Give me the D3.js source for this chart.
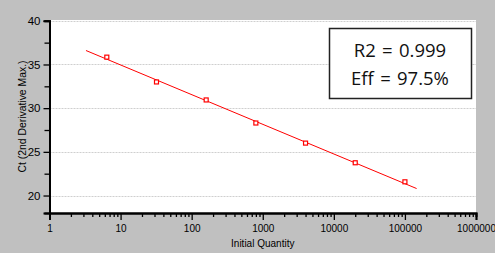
<!DOCTYPE html>
<html>
<head>
<meta charset="utf-8">
<script src="https://cdn.jsdelivr.net/npm/d3@7"></script>
<style>
  body { margin: 0; background: #c0c0c0; }
  svg { display: block; }
</style>
</head>
<body>
<div id="chart"></div>
<script>
// standard curve data (5-fold dilution series)
var quantities = [6.4, 32, 160, 800, 4000, 20000, 100000];
var ctValues = [35.84, 33.0, 30.94, 28.3, 26.0, 23.75, 21.57];

// fitted line end points
var fitX = [3.26, 146000];
var fitY = [36.6, 20.8];

var yTicks = [20, 25, 30, 35, 40];
var xTicks = [1, 10, 100, 1000, 10000, 100000, 1000000];
var statLines = ["R2 = 0.999", "Eff = 97.5%"];

var W = 495, H = 253;
var margin = {top: 20, right: 19, bottom: 40, left: 49.5},
    width = W - margin.left - margin.right,
    height = H - margin.top - margin.bottom;

var svg = d3.select("#chart")
  .append("svg")
    .attr("width", W)
    .attr("height", H);

svg.append("rect")
    .attr("width", W)
    .attr("height", H)
    .attr("fill", "#c0c0c0");

var g = svg.append("g")
    .attr("transform", "translate(" + margin.left + "," + margin.top + ")");

// plot background
g.append("rect")
    .attr("width", width)
    .attr("height", height)
    .attr("fill", "#fff");

var x = d3.scaleLog()
    .domain([1, 1000000])
    .range([0, width]);

var y = d3.scaleLinear()
    .domain([18, 40])
    .range([height, 0.8]);

// dotted gridlines
g.selectAll(".grid")
  .data(yTicks)
  .enter()
  .append("line")
    .attr("x1", 0)
    .attr("x2", width)
    .attr("y1", function(d) { return Math.round(y(d)) + 0.5; })
    .attr("y2", function(d) { return Math.round(y(d)) + 0.5; })
    .attr("stroke", "#cfcfcf")
    .attr("stroke-dasharray", "2,1");

// minor ticks
var xMinor = [];
for (var e = 0; e < 6; e++) {
  for (var m = 2; m < 10; m++) xMinor.push(m * Math.pow(10, e));
}
var yMinor = [22.5, 27.5, 32.5, 37.5];

var xAxis = g.append("g")
    .attr("transform", "translate(0," + height + ")");
xAxis.call(d3.axisBottom(x).tickValues(xMinor).tickSize(4).tickFormat(""));
xAxis.append("g")
    .call(d3.axisBottom(x).tickValues(xTicks).tickSize(7).tickPadding(5)
      .tickFormat(d3.format("d")));

var yAxis = g.append("g");
yAxis.call(d3.axisLeft(y).tickValues(yMinor).tickSize(5).tickFormat(""));
yAxis.append("g")
    .call(d3.axisLeft(y).tickValues(yTicks).tickSize(6).tickPadding(3));

g.selectAll(".domain")
    .attr("stroke", "#000")
    .attr("stroke-width", 2);
g.selectAll(".tick line")
    .attr("stroke", "#000")
    .attr("stroke-width", 1.3);
g.selectAll(".tick text")
    .style("font-family", "Liberation Sans, Arial, sans-serif")
    .style("font-size", "10px")
    .attr("fill", "#000");
yAxis.selectAll(".tick text").style("font-size", "11.5px");

// axis titles
svg.append("text")
    .attr("x", margin.left + x(1000))
    .attr("y", 247)
    .attr("text-anchor", "middle")
    .style("font-family", "Liberation Sans, Arial, sans-serif")
    .style("font-size", "10px")
    .text("Initial Quantity");

svg.append("text")
    .attr("transform", "translate(26," + 116.5 + ") rotate(-90)")
    .attr("text-anchor", "middle")
    .style("font-family", "Liberation Sans, Arial, sans-serif")
    .style("font-size", "10.4px")
    .text("Ct (2nd Derivative Max.)");

// fit line
var line = d3.line()
    .x(function(d) { return x(d[0]); })
    .y(function(d) { return y(d[1]); });

g.append("path")
    .datum(d3.zip(fitX, fitY))
    .attr("d", line)
    .attr("fill", "none")
    .attr("stroke", "#ff0000")
    .attr("stroke-width", 1);

// points
g.selectAll(".pt")
  .data(d3.zip(quantities, ctValues))
  .enter()
  .append("rect")
    .attr("x", function(d) { return x(d[0]) - 2; })
    .attr("y", function(d) { return y(d[1]) - 2; })
    .attr("width", 4)
    .attr("height", 4)
    .attr("fill", "#fff")
    .attr("stroke", "#ff0000")
    .attr("stroke-width", 1.2);

// stats box
var box = svg.append("g");
box.append("rect")
    .attr("x", 329.5)
    .attr("y", 28.5)
    .attr("width", 142)
    .attr("height", 70)
    .attr("fill", "#fff")
    .attr("stroke", "#222")
    .attr("stroke-width", 1.5);

box.selectAll("text")
  .data(statLines)
  .enter()
  .append("text")
    .attr("x", 400)
    .attr("y", function(d, i) { return 57 + i * 27.5; })
    .attr("text-anchor", "middle")
    .style("font-family", "Open Sans, Noto Sans, sans-serif")
    .style("font-size", "18.5px")
    .style("word-spacing", "1.5px")
    .attr("fill", "#111")
    .text(function(d) { return d; });
</script>
</body>
</html>
